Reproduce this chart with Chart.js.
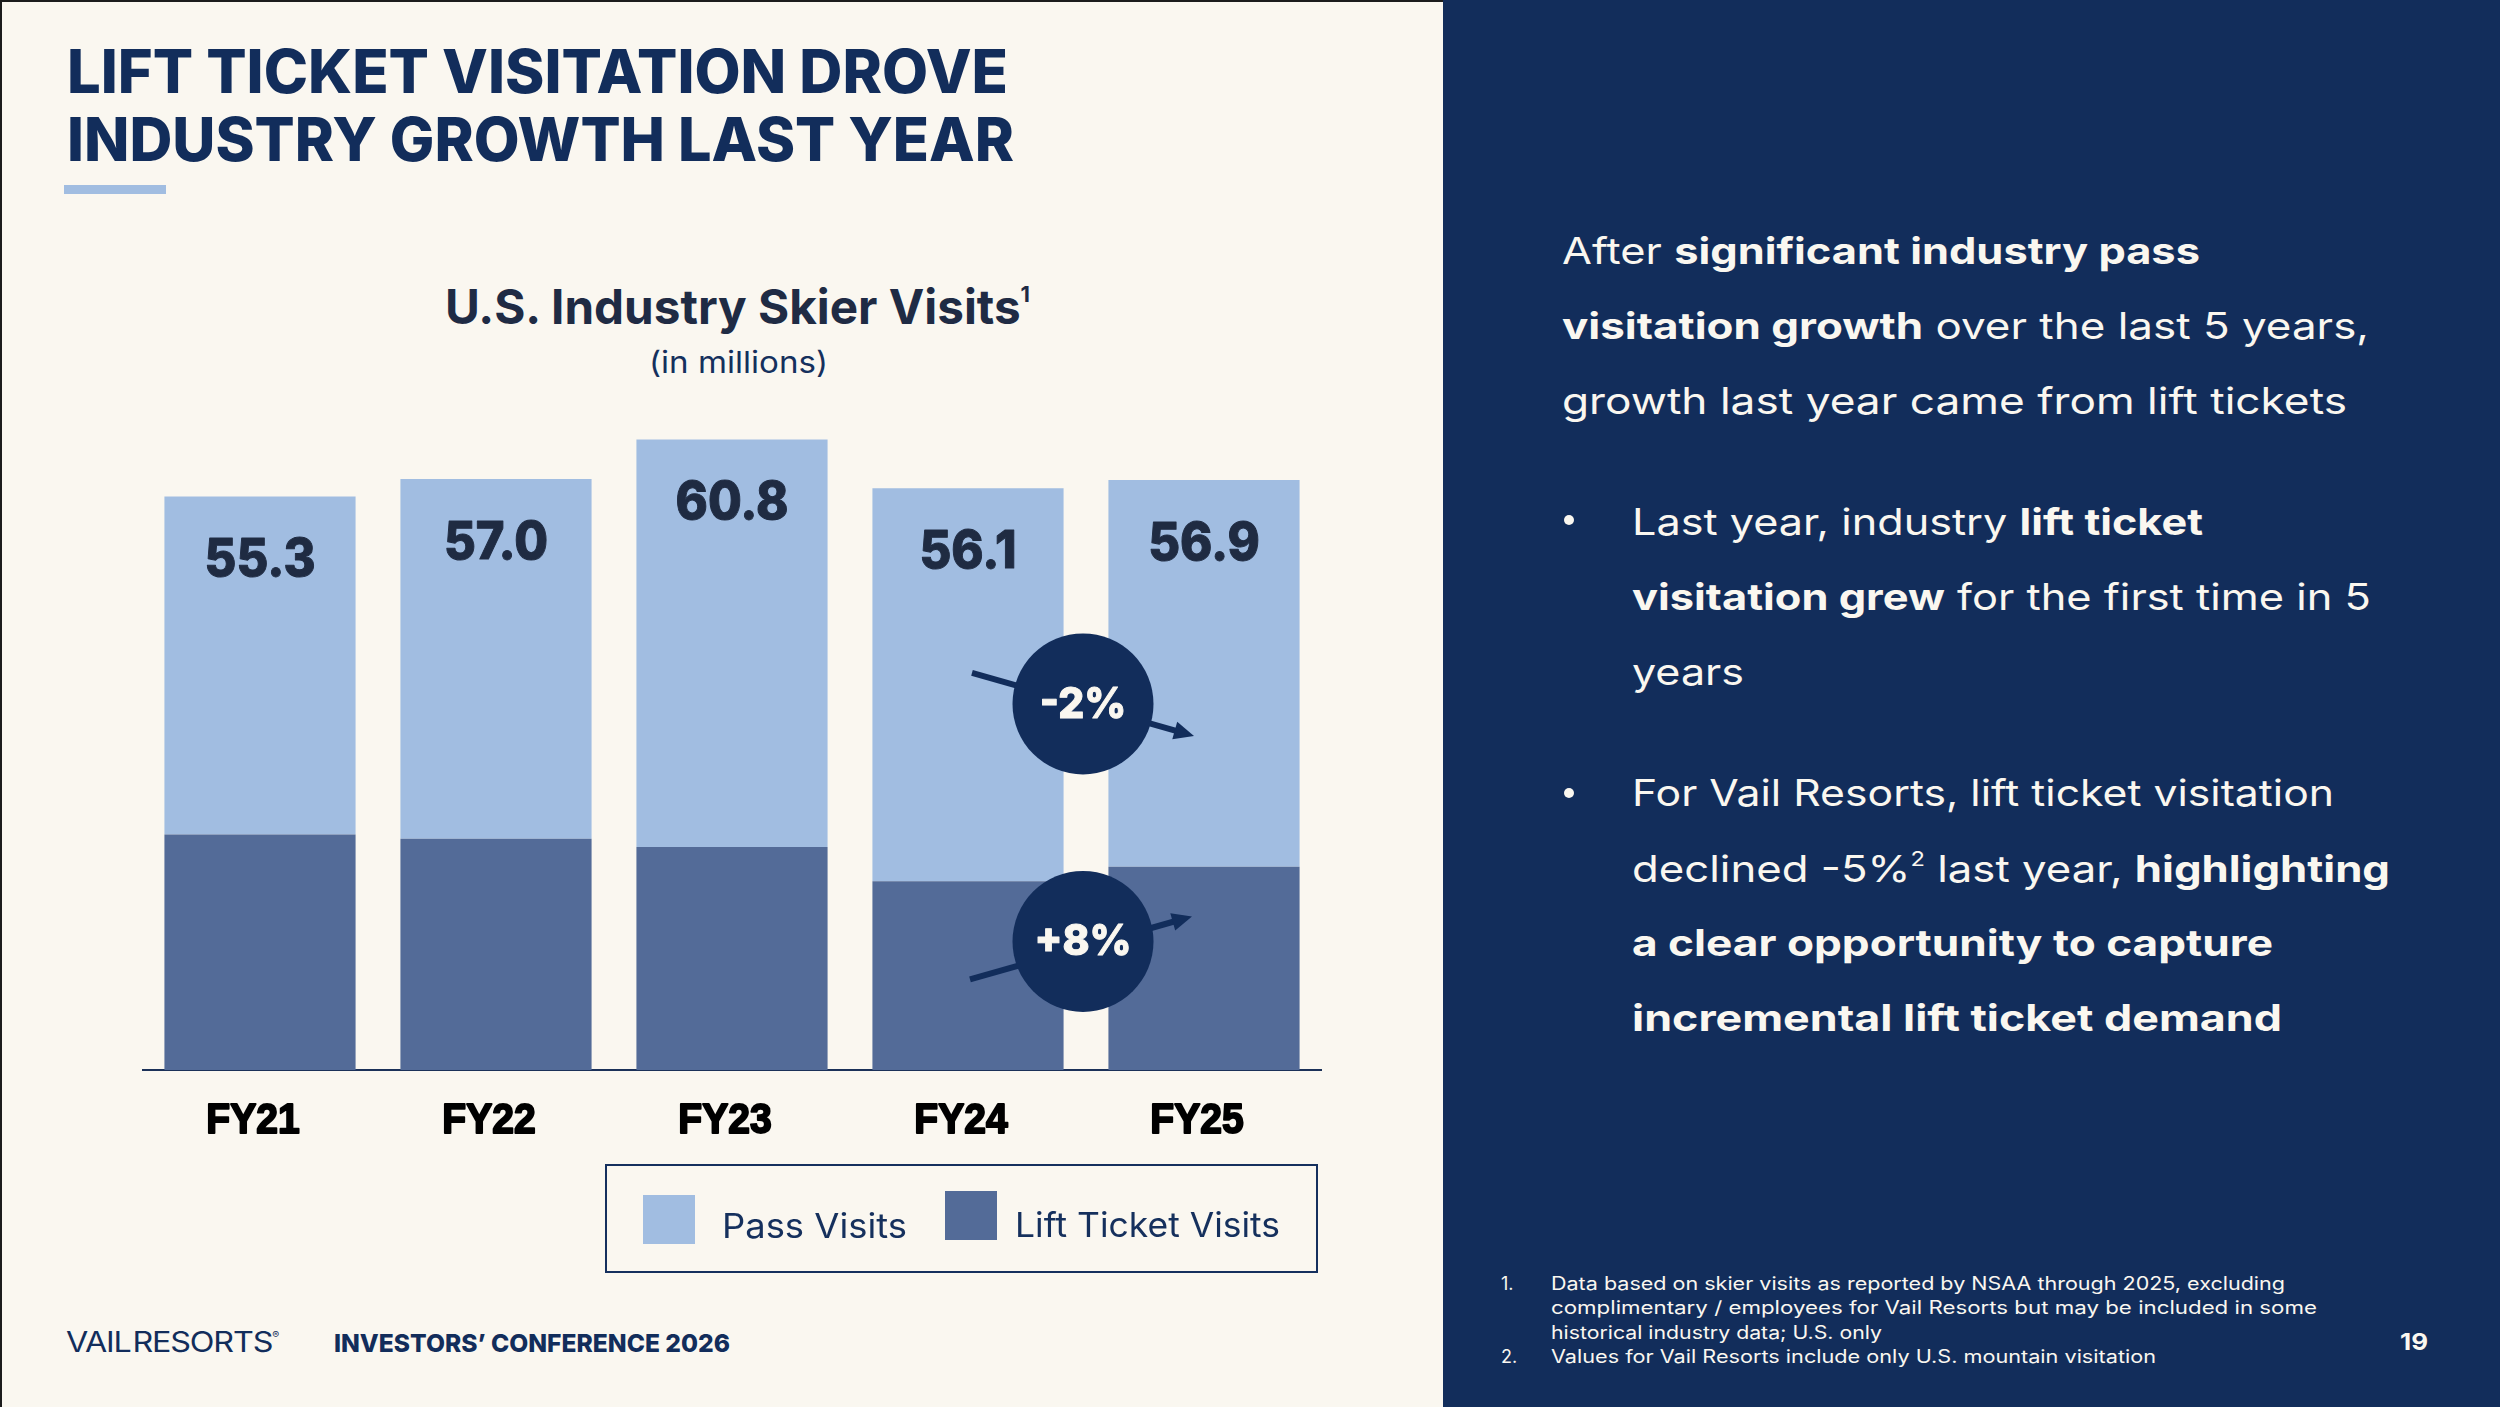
<!DOCTYPE html>
<html>
<head>
<meta charset="utf-8">
<script src="https://cdn.jsdelivr.net/npm/chart.js@4.4.1/dist/chart.umd.min.js"></script>
<style>
  html, body { margin: 0; padding: 0; }
  body { width: 2500px; height: 1407px; position: relative; overflow: hidden; background: #FAF7F0; font-family: Inter, sans-serif; }
  .frame-top { position: absolute; left: 0; top: 0; width: 2500px; height: 2px; background: #1c1c1c; }
  .frame-left { position: absolute; left: 0; top: 0; width: 2px; height: 1407px; background: #1c1c1c; }
  .panel { position: absolute; left: 1443px; top: 0; width: 1057px; height: 1407px; background: #122D5B; }
  .t { position: absolute; white-space: nowrap; line-height: 1; transform-origin: left center; display: inline-block; }
  .title { color: #122D5B; font-size: 60px; font-weight: 800; left: 67px; }
  .accent { position: absolute; left: 64px; top: 185px; width: 102px; height: 9px; background: #A1BDE1; }
  .ctitle { color: #1F2B44; font-size: 48px; font-weight: 700; left: 445px; top: 283px; }
  .ctitle sup { font-size: 22px; vertical-align: 22px; }
  .csub { color: #15305D; font-size: 30px; font-weight: 400; left: 649px; top: 347px; }
  .rt { color: #FAF7F0; font-size: 37px; font-weight: 400; }
  .rt b { font-weight: 700; }
  .rt sup { font-size: 20px; vertical-align: 16px; }
  .dot { position: absolute; width: 10px; height: 10px; border-radius: 50%; background: #FAF7F0; }
  .fn { color: #FAF7F0; font-size: 18px; font-weight: 400; }
  .foot { color: #122D5B; }
  #legend { position: absolute; left: 605px; top: 1164px; width: 709px; height: 105px; border: 2.5px solid #15305E; }
  .sw { position: absolute; width: 52px; height: 49px; }
  .lt { color: #15305D; font-size: 34px; font-weight: 400; }
  #chartWrap { position: absolute; left: 142px; top: 396px; width: 1180px; height: 800px; }
</style>
</head>
<body>
<div class="frame-top"></div>
<div class="frame-left"></div>

<div class="t title" style="top:41px" data-w="941">LIFT TICKET VISITATION DROVE</div>
<div class="t title" style="top:109px" data-w="947">INDUSTRY GROWTH LAST YEAR</div>
<div class="accent"></div>

<div class="t ctitle" data-w="585">U.S. Industry Skier Visits<sup>1</sup></div>
<div class="t csub" data-w="179">(in millions)</div>

<div id="chartWrap"><canvas id="chart" width="1180" height="800"></canvas></div>

<div id="legend"></div>

<div class="t foot" style="left:66px; top:1328px; font-size:28px; font-weight:400; letter-spacing:-1px" data-w="212">VAIL&#8202;RESORTS<sup style="font-size:9px; vertical-align:14px">®</sup></div>
<div class="t foot" style="left:334px; top:1331px; font-size:25px; font-weight:800" data-w="396">INVESTORS’ CONFERENCE 2026</div>

<div class="panel"></div>

<div class="t rt" style="left:1562px; top:232px" data-w="638">After <b>significant industry pass</b></div>
<div class="t rt" style="left:1562px; top:307px" data-w="807"><b>visitation growth</b> over the last 5 years,</div>
<div class="t rt" style="left:1562px; top:382px" data-w="785">growth last year came from lift tickets</div>

<div class="dot" style="left:1564px; top:515px"></div>
<div class="t rt" style="left:1632px; top:503px" data-w="571">Last year, industry <b>lift ticket</b></div>
<div class="t rt" style="left:1632px; top:578px" data-w="739"><b>visitation grew</b> for the first time in 5</div>
<div class="t rt" style="left:1632px; top:653px" data-w="112">years</div>

<div class="dot" style="left:1564px; top:788px"></div>
<div class="t rt" style="left:1632px; top:774px" data-w="702">For Vail Resorts, lift ticket visitation</div>
<div class="t rt" style="left:1632px; top:849px" data-w="758">declined -5%<sup>2</sup> last year, <b>highlighting</b></div>
<div class="t rt" style="left:1632px; top:924px" data-w="641"><b>a clear opportunity to capture</b></div>
<div class="t rt" style="left:1632px; top:999px" data-w="650"><b>incremental lift ticket demand</b></div>

<div class="t fn" style="left:1501px; top:1275px">1.</div>
<div class="t fn" style="left:1551px; top:1275px" data-w="734">Data based on skier visits as reported by NSAA through 2025, excluding</div>
<div class="t fn" style="left:1551px; top:1299px" data-w="766">complimentary / employees for Vail Resorts but may be included in some</div>
<div class="t fn" style="left:1551px; top:1324px" data-w="331">historical industry data; U.S. only</div>
<div class="t fn" style="left:1501px; top:1348px">2.</div>
<div class="t fn" style="left:1551px; top:1348px" data-w="605">Values for Vail Resorts include only U.S. mountain visitation</div>
<div class="t fn" style="left:2400px; top:1331px; font-size:23px; font-weight:700" data-w="28">19</div>

<script>
// data (millions of skier visits)
const categories = ['FY21', 'FY22', 'FY23', 'FY24', 'FY25'];
const liftTicketVisits = [22.7, 22.3, 21.5, 18.2, 19.6];
const passVisits = [32.6, 34.7, 39.3, 37.9, 37.3];
const totalVisits = [55.3, 57.0, 60.8, 56.1, 56.9];
const seriesNames = ['Pass Visits', 'Lift Ticket Visits'];
const changeLabels = ['-2%', '+8%'];
// value level (millions) where each change bubble sits, between FY24 and FY25
const changeLevels = [35.3, 12.4];

const passColor = '#A1BDE1';
const liftColor = '#536B98';
const navy = '#122D5B';

// squeeze text horizontally so it matches the narrow slide typeface
document.querySelectorAll('[data-w]').forEach(el => {
    const w = el.getBoundingClientRect().width;
    el.style.transform = `scaleX(${el.dataset.w / w})`;
});

function squeezedText(ctx, text, x, y, sx, stroke) {
    ctx.save();
    ctx.translate(x, y);
    ctx.scale(sx, 1);
    if (stroke) {
        ctx.lineWidth = stroke;
        ctx.strokeStyle = ctx.fillStyle;
        ctx.lineJoin = 'round';
        ctx.strokeText(text, 0, 0);
    }
    ctx.fillText(text, 0, 0);
    ctx.restore();
}

const totalsPlugin = {
    id: 'totals',
    afterDatasetsDraw(chart) {
        const ctx = chart.ctx;
        const meta = chart.getDatasetMeta(1);
        const y = chart.scales.y;
        ctx.save();
        ctx.font = '800 52px Inter';
        ctx.fillStyle = '#1F2B42';
        ctx.textAlign = 'center';
        ctx.textBaseline = 'middle';
        totalVisits.forEach((v, i) => {
            squeezedText(ctx, v.toFixed(1), meta.data[i].x, y.getPixelForValue(v) + 64, 0.94, 1);
        });
        ctx.restore();
    }
};

const tickPlugin = {
    id: 'fyTicks',
    afterDraw(chart) {
        const ctx = chart.ctx;
        const x = chart.scales.x;
        ctx.save();
        ctx.font = 'bold 42px "Liberation Sans"';
        ctx.fillStyle = '#000000';
        ctx.textAlign = 'center';
        ctx.textBaseline = 'middle';
        categories.forEach((c, i) => {
            squeezedText(ctx, c, x.getPixelForValue(i) - 7, chart.chartArea.bottom + 51, 0.93, 2);
        });
        ctx.restore();
    }
};

const changePlugin = {
    id: 'changeBubbles',
    afterDatasetsDraw(chart) {
        const ctx = chart.ctx;
        const xs = chart.scales.x, ys = chart.scales.y;
        const cx = (xs.getPixelForValue(3) + xs.getPixelForValue(4)) / 2 - 3;
        // arrow start / tip offsets from the bubble centre
        const arrows = [[-111, -31, 111, 32], [-113, 38, 109, -25]];
        changeLabels.forEach((label, k) => {
            const cy = ys.getPixelForValue(changeLevels[k]);
            const [x0, y0, x1, y1] = arrows[k];
            const ang = Math.atan2(y1 - y0, x1 - x0);
            const tx = cx + x1, ty = cy + y1;
            ctx.save();
            ctx.strokeStyle = navy;
            ctx.fillStyle = navy;
            ctx.lineWidth = 6;
            ctx.beginPath();
            ctx.moveTo(cx + x0, cy + y0);
            ctx.lineTo(tx - 14 * Math.cos(ang), ty - 14 * Math.sin(ang));
            ctx.stroke();
            ctx.beginPath();
            ctx.moveTo(tx, ty);
            ctx.lineTo(tx - 20 * Math.cos(ang) + 9 * Math.sin(ang), ty - 20 * Math.sin(ang) - 9 * Math.cos(ang));
            ctx.lineTo(tx - 20 * Math.cos(ang) - 9 * Math.sin(ang), ty - 20 * Math.sin(ang) + 9 * Math.cos(ang));
            ctx.closePath();
            ctx.fill();
            ctx.beginPath();
            ctx.arc(cx, cy, 70.5, 0, Math.PI * 2);
            ctx.fill();
            ctx.font = '800 43px Inter';
            ctx.fillStyle = '#FAF7F0';
            ctx.textAlign = 'center';
            ctx.textBaseline = 'middle';
            squeezedText(ctx, label, cx, cy + 1, 0.95, 1);
            ctx.restore();
        });
    }
};

new Chart(document.getElementById('chart'), {
    type: 'bar',
    data: {
        labels: categories,
        datasets: [
            { label: seriesNames[1], data: liftTicketVisits, backgroundColor: liftColor, borderWidth: 0 },
            { label: seriesNames[0], data: passVisits, backgroundColor: passColor, borderWidth: 0 }
        ]
    },
    options: {
        responsive: false,
        animation: false,
        devicePixelRatio: 1,
        barPercentage: 0.81,
        categoryPercentage: 1.0,
        layout: { padding: { left: 0, right: 0, top: 0, bottom: 126 } },
        plugins: { legend: { display: false }, tooltip: { enabled: false } },
        scales: {
            x: {
                stacked: true,
                grid: { display: false, drawTicks: false },
                border: { display: true, color: '#1B3158', width: 2 },
                ticks: { display: false }
            },
            y: { stacked: true, display: false, min: 0, max: 65 }
        }
    },
    plugins: [totalsPlugin, tickPlugin, changePlugin]
});

// legend box built from the series names and colours
const legend = document.getElementById('legend');
const legendItems = [
    { name: seriesNames[0], color: passColor, sw: [36, 29], tx: [115, 43], w: 185 },
    { name: seriesNames[1], color: liftColor, sw: [338, 25], tx: [408, 42], w: 265 }
];
legendItems.forEach(it => {
    const s = document.createElement('div');
    s.className = 'sw';
    s.style.left = it.sw[0] + 'px';
    s.style.top = it.sw[1] + 'px';
    s.style.background = it.color;
    legend.appendChild(s);
    const t = document.createElement('div');
    t.className = 't lt';
    t.style.left = it.tx[0] + 'px';
    t.style.top = it.tx[1] + 'px';
    t.textContent = it.name;
    legend.appendChild(t);
    t.style.transform = `scaleX(${it.w / t.getBoundingClientRect().width})`;
});
</script>
</body>
</html>
